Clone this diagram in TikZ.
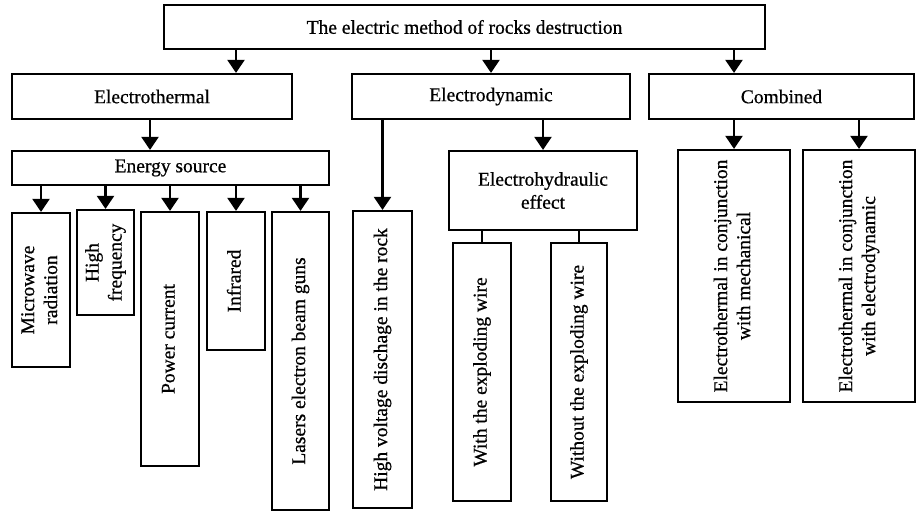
\documentclass[tikz,border=0pt]{standalone}
\usepackage{fontspec}
\setmainfont{Liberation Serif}[FakeBold=0.7]
\usetikzlibrary{arrows.meta}
\newcommand{\vtext}[1]{\rotatebox{90}{\begin{tabular}{@{}c@{}}#1\end{tabular}}}
\tikzset{
  box/.style={draw, line width=2.2pt, inner sep=0pt, align=center,
    font=\fontsize{19.5}{23}\selectfont},
  arr/.style={line width=2.2pt, -{Triangle[length=13pt,width=17pt]}},
  ln/.style={line width=2.2pt},
}
\newcommand{\bx}[6]{% name, x1,y1,x2,y2, text
  \node[box, minimum width={(#4-#2)*1pt}, minimum height={(#5-#3)*1pt}]
    (#1) at ({(#2+#4)/2},{(#3+#5)/2}) {#6};}
\begin{document}
\begin{tikzpicture}[x=1pt,y=-1pt]
\useasboundingbox (0,0) rectangle (917,512);
\bx{top}{164}{5}{765}{49}{The electric method of rocks destruction}
\bx{et}{12}{74}{292}{119}{Electrothermal}
\bx{ed}{352}{74}{630}{119}{Electrodynamic}
\bx{cb}{649}{74}{914}{119}{Combined}
\bx{es}{12}{151}{329}{185}{Energy source}
\bx{mw}{12}{213}{70}{367}{\vtext{Microwave\\radiation}}
\bx{hf}{77}{210}{134}{315}{\vtext{High\\frequency}}
\bx{pc}{141}{212}{199}{466}{\vtext{Power current}}
\bx{ir}{207}{212}{265}{350}{\vtext{Infrared}}
\bx{ls}{272}{212}{329}{510}{\vtext{Lasers electron beam guns}}
\bx{hv}{353}{211}{412}{508}{\vtext{High voltage dischage in the rock}}
\bx{eh}{449}{151}{637}{230}{Electrohydraulic\\effect}
\bx{ww}{453}{243}{511}{501}{\vtext{With the exploding wire}}
\bx{wo}{551}{243}{607}{501}{\vtext{Without the exploding wire}}
\bx{cm}{678}{150}{790}{402}{\vtext{Electrothermal in conjunction\\with mechanical}}
\bx{ce}{803}{150}{915}{402}{\vtext{Electrothermal in conjunction\\with electrodynamic}}
% connectors
\draw[arr] (236,0 |- top.south) -- (236,0 |- et.north);
\draw[arr] (ed.north |- top.south) -- (ed.north);
\draw[arr] (cm.north |- top.south) -- (cm.north |- cb.north);
\draw[arr] (150,0 |- et.south) -- (150,0 |- es.north);
\draw[arr] (mw.north |- es.south) -- (mw.north);
\draw[arr] (hf.north |- es.south) -- (hf.north);
\draw[arr] (pc.north |- es.south) -- (pc.north);
\draw[arr] (ir.north |- es.south) -- (ir.north);
\draw[arr] (ls.north |- es.south) -- (ls.north);
\draw[arr] (hv.north |- ed.south) -- (hv.north);
\draw[arr] (eh.north |- ed.south) -- (eh.north);
\draw[ln] (ww.north |- eh.south) -- (ww.north);
\draw[ln] (wo.north |- eh.south) -- (wo.north);
\draw[arr] (cm.north |- cb.south) -- (cm.north);
\draw[arr] (ce.north |- cb.south) -- (ce.north);
\end{tikzpicture}
\end{document}
